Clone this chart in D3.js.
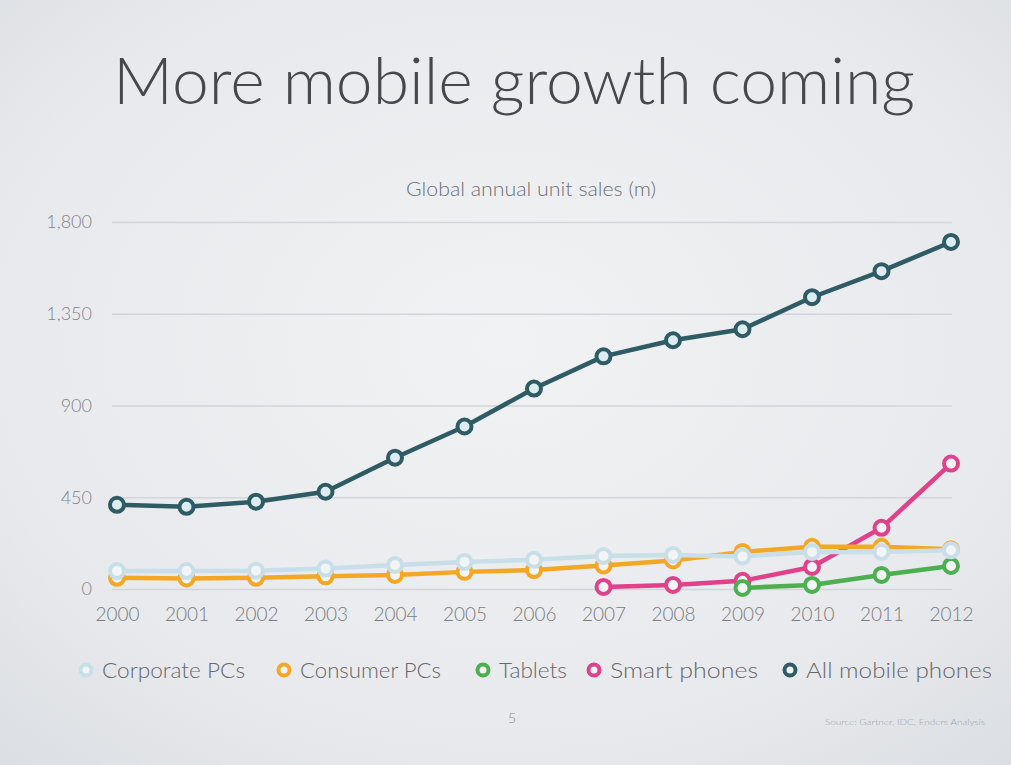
<!DOCTYPE html>
<html>
<head>
<meta charset="utf-8">
<script src="https://cdn.jsdelivr.net/npm/d3@7"></script>
<style>
  html, body { margin: 0; padding: 0; background: #e8eaed; }
  svg { display: block; }
</style>
</head>
<body>
<svg id="chart" width="1011" height="765"></svg>
<script>
// Global annual unit sales, millions
const years = [2000, 2001, 2002, 2003, 2004, 2005, 2006, 2007, 2008, 2009, 2010, 2011, 2012];
const corporatePCs = [88, 88, 90, 100, 118, 133, 143, 162, 167, 160, 182, 182, 190];
const consumerPCs = [55, 52, 55, 62, 69, 84, 93, 115, 140, 182, 207, 207, 195];
const tablets = [null, null, null, null, null, null, null, null, null, 5, 20, 69, 113];
const smartPhones = [null, null, null, null, null, null, null, 10, 20, 40, 108, 300, 615];
const allMobile = [413, 403, 428, 477, 644, 797, 983, 1141, 1220, 1274, 1431, 1559, 1702];
const yTicks = [0, 450, 900, 1350, 1800];

const series = [
  { name: "Smart phones", values: smartPhones, color: "#e0418a" },
  { name: "Tablets", values: tablets, color: "#4caf50" },
  { name: "Consumer PCs", values: consumerPCs, color: "#f3a825" },
  { name: "Corporate PCs", values: corporatePCs, color: "#c8dfea" },
  { name: "All mobile phones", values: allMobile, color: "#2e5b64" }
];
const legendOrder = ["Corporate PCs", "Consumer PCs", "Tablets", "Smart phones", "All mobile phones"];

const svg = d3.select("#chart");
const W = 1011, H = 765;
const font = "Lato, 'Open Sans', sans-serif";

// slide background
const defs = svg.append("defs");
const grad = defs.append("radialGradient").attr("id", "bg")
  .attr("cx", "50%").attr("cy", "45%").attr("r", "75%");
grad.append("stop").attr("offset", "0%").attr("stop-color", "#f1f2f4");
grad.append("stop").attr("offset", "70%").attr("stop-color", "#e7e9ec");
grad.append("stop").attr("offset", "100%").attr("stop-color", "#dbdee2");
svg.append("rect").attr("width", W).attr("height", H).attr("fill", "url(#bg)");

// title
svg.append("text")
  .attr("x", 514).attr("y", 104)
  .attr("text-anchor", "middle")
  .attr("font-family", font).attr("font-weight", 300)
  .attr("font-size", 66).attr("fill", "#47484b")
  .attr("textLength", 802).attr("lengthAdjust", "spacingAndGlyphs")
  .text("More mobile growth coming");

svg.append("text")
  .attr("x", 531).attr("y", 196)
  .attr("text-anchor", "middle")
  .attr("font-family", font).attr("font-weight", 300)
  .attr("font-size", 19).attr("fill", "#6e7074")
  .attr("textLength", 250).attr("lengthAdjust", "spacingAndGlyphs")
  .text("Global annual unit sales (m)");

// scales
const x = d3.scalePoint().domain(years).range([117, 951]);
const y = d3.scaleLinear().domain([0, 1800]).range([589, 222]);

// gridlines
const grid = svg.append("g")
  .attr("transform", "translate(112,0)")
  .call(d3.axisLeft(y).tickValues(yTicks).tickSize(-(952 - 112)).tickFormat(""));
grid.select(".domain").remove();
grid.selectAll(".tick line").attr("stroke", "#d2d5d9").attr("stroke-width", 1.5);

// y labels
const yAxis = svg.append("g").attr("transform", "translate(92,0)")
  .call(d3.axisLeft(y).tickValues(yTicks).tickSize(0).tickPadding(0).tickFormat(d3.format(",")));
yAxis.select(".domain").remove();
yAxis.selectAll("text")
  .attr("font-family", font).attr("font-weight", 300)
  .attr("font-size", 18).attr("fill", "#838589");

// x labels
const xAxis = svg.append("g").attr("transform", "translate(0,605)")
  .call(d3.axisBottom(x).tickSize(0).tickPadding(0));
xAxis.select(".domain").remove();
xAxis.selectAll("text")
  .attr("font-family", font).attr("font-weight", 300)
  .attr("font-size", 19).attr("fill", "#7a7c80")
  .attr("dy", "0.85em");

// lines and markers
const line = d3.line()
  .defined(d => d.v != null)
  .x(d => x(d.year))
  .y(d => y(d.v));

series.forEach(s => {
  const pts = years.map((yr, i) => ({ year: yr, v: s.values[i] }));
  const g = svg.append("g");
  g.append("path")
    .datum(pts)
    .attr("d", line)
    .attr("fill", "none")
    .attr("stroke", s.color)
    .attr("stroke-width", 4.5)
    .attr("stroke-linejoin", "round");
  g.selectAll("circle")
    .data(pts.filter(d => d.v != null))
    .join("circle")
    .attr("cx", d => x(d.year))
    .attr("cy", d => y(d.v))
    .attr("r", 7)
    .attr("fill", s.name === "All mobile phones" ? "#dcedf2" : "#f2f4f6")
    .attr("stroke", s.color)
    .attr("stroke-width", 4);
});

// legend
const legendItems = {
  "Corporate PCs": { x: 86, w: 143 },
  "Consumer PCs": { x: 284, w: 141 },
  "Tablets": { x: 483, w: 68 },
  "Smart phones": { x: 594, w: 148 },
  "All mobile phones": { x: 790, w: 186 }
};
const legend = svg.append("g");
legendOrder.forEach(name => {
  const s = series.find(d => d.name === name);
  const it = legendItems[name];
  legend.append("circle")
    .attr("cx", it.x).attr("cy", 670).attr("r", 5.5)
    .attr("fill", "#f2f4f6").attr("stroke", s.color).attr("stroke-width", 4);
  legend.append("text")
    .attr("x", it.x + 16).attr("y", 678)
    .attr("font-family", font).attr("font-weight", 300)
    .attr("font-size", 22).attr("fill", "#66686c")
    .attr("textLength", it.w).attr("lengthAdjust", "spacingAndGlyphs")
    .text(name);
});

// footer
svg.append("text")
  .attr("x", 512).attr("y", 723)
  .attr("text-anchor", "middle")
  .attr("font-family", font).attr("font-weight", 300)
  .attr("font-size", 14).attr("fill", "#8a8c90")
  .text("5");

svg.append("text")
  .attr("x", 985).attr("y", 725)
  .attr("text-anchor", "end")
  .attr("font-family", font).attr("font-weight", 300)
  .attr("font-size", 8).attr("fill", "#a0a3a7")
  .attr("textLength", 160).attr("lengthAdjust", "spacingAndGlyphs")
  .text("Source: Gartner, IDC, Enders Analysis");
</script>
</body>
</html>
